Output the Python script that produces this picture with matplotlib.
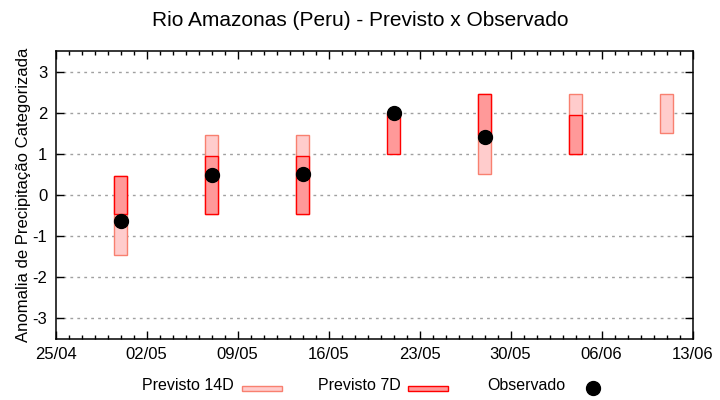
import matplotlib
matplotlib.use("Agg")
import matplotlib.pyplot as plt
import matplotlib.dates as mdates
from matplotlib.patches import Rectangle
from matplotlib.lines import Line2D
import numpy as np
import datetime as dt

plt.rcParams['font.family'] = ['Liberation Sans', 'DejaVu Sans']

dates = ['2024-04-30', '2024-05-07', '2024-05-14', '2024-05-21', '2024-05-28', '2024-06-04', '2024-06-11']
p14_lo = [-1.45, -0.45, -0.45, np.nan, 0.5, 1.0, 1.5]
p14_hi = [0.45, 1.45, 1.45, np.nan, 2.45, 2.45, 2.45]
p7_lo = [-0.45, -0.45, -0.45, 1.0, 1.45, 1.0, np.nan]
p7_hi = [0.45, 0.95, 0.95, 2.0, 2.45, 1.95, np.nan]
obs = [-0.63, 0.49, 0.51, 2.0, 1.41, np.nan, np.nan]
xtick_dates = ['2024-04-25', '2024-05-02', '2024-05-09', '2024-05-16', '2024-05-23',
               '2024-05-30', '2024-06-06', '2024-06-13']
yticks = [-3, -2, -1, 0, 1, 2, 3]

x = [dt.datetime.strptime(d, '%Y-%m-%d') for d in dates]
xn = mdates.date2num(x)

fig = plt.figure(figsize=(7.2, 4.0), dpi=100)
ax = fig.add_axes([55.5/720, 1-339/400, (692.5-55.5)/720, (339-51)/400])

c14_face = '#ffcccc'
c14_edge = '#f88070'
c7_face = '#ff9999'
c7_edge = '#ff0000'

lo14 = np.array(p14_lo); hi14 = np.array(p14_hi)
lo7 = np.array(p7_lo); hi7 = np.array(p7_hi)
ax.bar(xn, hi14 - lo14, bottom=lo14, width=1.0, color=c14_face, edgecolor=c14_edge, linewidth=1.0, zorder=3)
ax.bar(xn, hi7 - lo7, bottom=lo7, width=1.0, color=c7_face, edgecolor=c7_edge, linewidth=1.0, zorder=4)
ax.plot(xn, obs, 'o', color='black', markersize=10, zorder=5, linestyle='none')

xt = mdates.date2num([dt.datetime.strptime(d, '%Y-%m-%d') for d in xtick_dates])
ax.set_xlim(xt[0], xt[-1])
ax.set_xticks(xt)
ax.set_xticklabels([dt.datetime.strptime(d, '%Y-%m-%d').strftime('%d/%m') for d in xtick_dates])
ax.set_xticks(np.arange(xt[0], xt[-1] + 0.5, 1.0), minor=True)
ax.set_ylim(-3.5, 3.5)
ax.set_yticks(yticks)
ax.set_yticklabels([str(v) for v in yticks])

ax.tick_params(axis='both', which='major', direction='in', length=6, width=1,
               top=True, right=True, labelsize=12, pad=6, colors='black')
ax.tick_params(axis='x', which='minor', direction='in', length=3, width=1, top=True, bottom=True)
ax.tick_params(axis='y', which='minor', left=False, right=False)
for s in ax.spines.values():
    s.set_linewidth(1.1)
    s.set_color('black')

ax.yaxis.grid(True, linestyle=(0, (2, 3)), color='#a0a0a0', linewidth=1, zorder=0)
ax.xaxis.grid(False)
ax.set_axisbelow(True)

ax.set_ylabel('Anomalia de Precipitação Categorizada', fontsize=12, labelpad=1)
fig.text(0.5, 1 - 20/400, 'Rio Amazonas (Peru) - Previsto x Observado',
         ha='center', va='center', fontsize=15)

# legend (gnuplot-style, text then sample)
ly = 1 - 386/400
fig.text(234/720, ly, 'Previsto 14D', ha='right', va='center', fontsize=11.5)
fig.patches.append(Rectangle((242/720, 1-391/400), 40/720, 5.5/400, transform=fig.transFigure,
                             facecolor=c14_face, edgecolor=c14_edge, linewidth=1.0, figure=fig))
fig.text(401/720, ly, 'Previsto 7D', ha='right', va='center', fontsize=11.5)
fig.patches.append(Rectangle((408/720, 1-391/400), 40/720, 5.5/400, transform=fig.transFigure,
                             facecolor=c7_face, edgecolor=c7_edge, linewidth=1.0, figure=fig))
fig.text(565/720, ly, 'Observado', ha='right', va='center', fontsize=11.5)
fig.lines.append(Line2D([593/720], [1-388/400], marker='o', color='black', markersize=10,
                        transform=fig.transFigure, figure=fig))

fig.savefig('out.png', dpi=100)
